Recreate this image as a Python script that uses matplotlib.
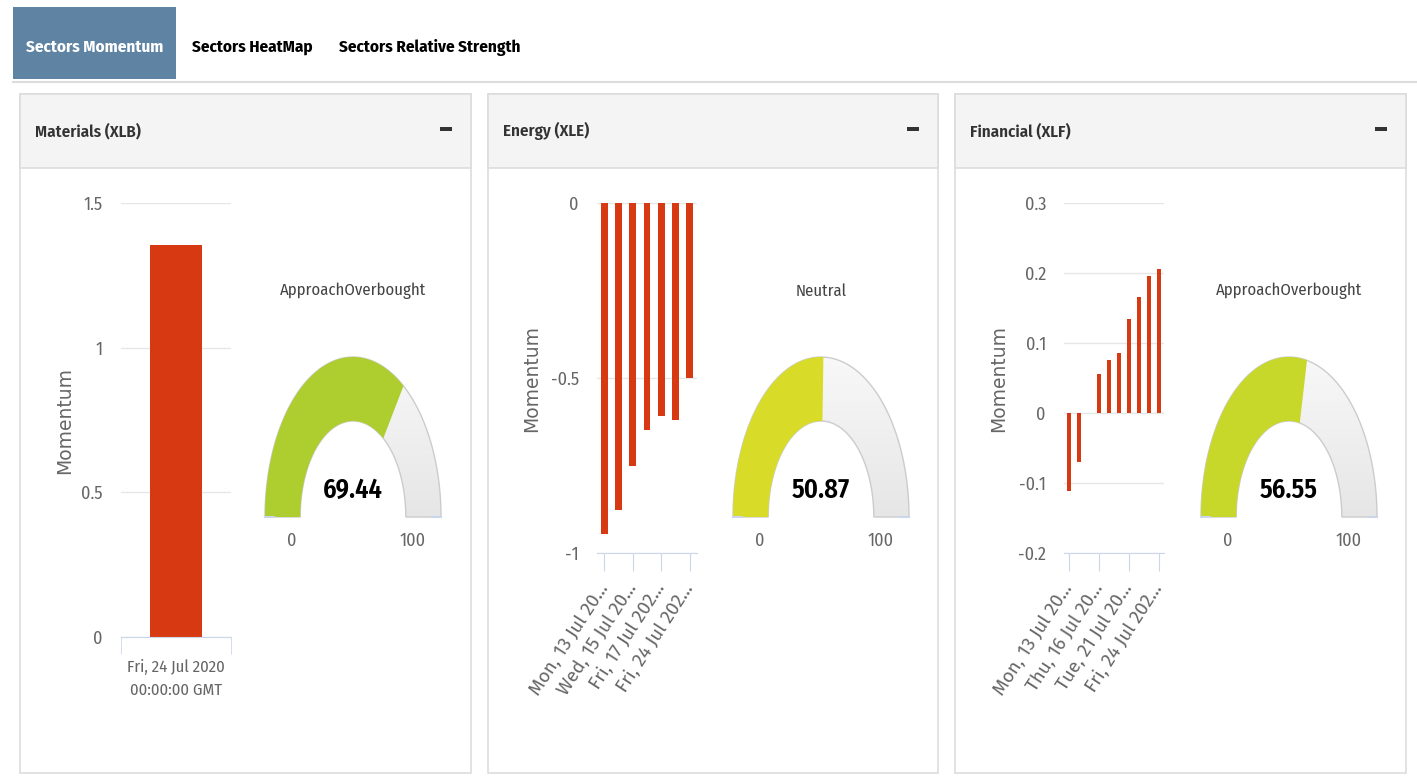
import numpy as np
import matplotlib
matplotlib.use("Agg")
import matplotlib.pyplot as plt
from matplotlib.patches import Rectangle, Polygon
from matplotlib.colors import LinearSegmentedColormap

plt.rcParams['font.family'] = ['Fira Sans Condensed', 'DejaVu Sans']
plt.rcParams['axes.unicode_minus'] = False

W, H = 1417, 776

# --- data ---
tabs = ["Sectors Momentum", "Sectors HeatMap", "Sectors Relative Strength"]
panel_titles = ["Materials (XLB)", "Energy (XLE)", "Financial (XLF)"]

xlb_dates = ["Fri, 24 Jul 2020"]
xlb_values = [1.355]
xlb_ticklabels = ["Fri, 24 Jul 2020\n00:00:00 GMT"]

xle_dates = ["Mon, 13 Jul 2020", "Tue, 14 Jul 2020", "Wed, 15 Jul 2020", "Thu, 16 Jul 2020",
             "Fri, 17 Jul 2020", "Tue, 21 Jul 2020", "Fri, 24 Jul 2020"]
xle_values = [-0.945, -0.876, -0.751, -0.648, -0.608, -0.619, -0.499]
xle_ticklabels = ["Mon, 13 Jul 20…", "Wed, 15 Jul 20…", "Fri, 17 Jul 202…", "Fri, 24 Jul 202…"]

xlf_dates = ["Mon, 13 Jul 2020", "Tue, 14 Jul 2020", "Wed, 15 Jul 2020", "Thu, 16 Jul 2020",
             "Fri, 17 Jul 2020", "Mon, 20 Jul 2020", "Tue, 21 Jul 2020", "Wed, 22 Jul 2020",
             "Thu, 23 Jul 2020", "Fri, 24 Jul 2020"]
xlf_values = [-0.111, -0.070, 0.0, 0.056, 0.076, 0.086, 0.135, 0.166, 0.196, 0.206]
xlf_ticklabels = ["Mon, 13 Jul 20…", "Thu, 16 Jul 20…", "Tue, 21 Jul 20…", "Fri, 24 Jul 202…"]

gauge_values = [69.44, 50.87, 56.55]
gauge_status = ["ApproachOverbought", "Neutral", "ApproachOverbought"]
gauge_colors = ["#aecd2f", "#d8dc28", "#c8d82b"]

BAR = "#d73a12"
GREY = "#666666"
AXIS = "#ccd6eb"

fig = plt.figure(figsize=(W / 100, H / 100), dpi=100)


def px_axes(x0, y0, x1, y1):
    return fig.add_axes([x0 / W, 1 - y1 / H, (x1 - x0) / W, (y1 - y0) / H])


# background layer in pixel coordinates
bg = fig.add_axes([0, 0, 1, 1])
bg.set_xlim(0, W)
bg.set_ylim(H, 0)
bg.axis('off')

bg.add_patch(Rectangle((13, 7), 163, 72, facecolor="#5f84a3", edgecolor="none"))
bg.plot([13, W], [82, 82], color="#dddddd", lw=1.5)
for label, x, c in zip(tabs, [95, 252, 430], ["white", "black", "black"]):
    bg.text(x, 47, label, ha='center', va='center', color=c, fontsize=12.3, fontweight='bold')

panels = [(20, 471), (488, 938), (955, 1406)]
for (x0, x1), title in zip(panels, panel_titles):
    bg.add_patch(Rectangle((x0, 94), x1 - x0, 679, facecolor="white", edgecolor="#dddddd", lw=1.2))
    bg.add_patch(Rectangle((x0, 94), x1 - x0, 74, facecolor="#f4f4f4", edgecolor="#dddddd", lw=1.2))
    bg.text(x0 + 15, 131, title, ha='left', va='center', color="#333333",
            fontsize=12.2, fontweight='semibold')
    bg.add_patch(Rectangle((x1 - 31, 127), 12, 4, facecolor="#333333", edgecolor="none"))


def style_bar_axes(ax, yticks, ylim, label_x):
    ax.set_facecolor('none')
    ax.set_ylim(*ylim)
    ax.set_yticks(yticks)
    ax.set_yticklabels(["%g" % t for t in yticks])
    ax.grid(axis='y', color="#e6e6e6", lw=1)
    ax.set_axisbelow(True)
    for s in ['left', 'top', 'right']:
        ax.spines[s].set_visible(False)
    ax.spines['bottom'].set_color(AXIS)
    ax.tick_params(axis='y', length=0, pad=13, labelsize=13, labelcolor=GREY)
    ax.set_ylabel("Momentum", family='DejaVu Sans', fontsize=13.5, color=GREY)
    ax.yaxis.set_label_coords(label_x, 0.5)


# Materials
ax1 = px_axes(121, 203, 231, 637)
ax1.bar(range(len(xlb_values)), xlb_values, width=0.47, color=BAR)
ax1.set_xlim(-0.5, 0.5)
style_bar_axes(ax1, [0, 0.5, 1, 1.5], (0, 1.5), -0.43)
ax1.set_xticks([0], xlb_ticklabels, linespacing=1.55)
ax1.set_xticks([-0.5, 0.5], minor=True)
ax1.tick_params(axis='x', which='major', length=0, pad=16, labelsize=12, labelcolor=GREY)
ax1.tick_params(axis='x', which='minor', length=12, color=AXIS)

# Energy and Financial
for box, vals, lbls, step, yt, lab_x in [
        ((597, 203, 697, 553), xle_values, xle_ticklabels, 2, [-1, -0.5, 0], -0.56),
        ((1064, 203, 1164, 553), xlf_values, xlf_ticklabels, 3,
         [-0.2, -0.1, 0, 0.1, 0.2, 0.3], -0.56)]:
    ax = px_axes(*box)
    n = len(vals)
    ax.bar(range(n), vals, width=0.48, color=BAR, zorder=3)
    ax.set_xlim(-0.5, n - 0.5)
    style_bar_axes(ax, yt, (yt[0], yt[-1]), lab_x)
    ax.set_xticks(range(0, n, step), lbls, rotation=57, ha='right', va='center',
                  rotation_mode='anchor', family=['Fira Sans', 'DejaVu Sans'])
    ax.tick_params(axis='x', length=13, color=AXIS, pad=10, labelsize=13.5, labelcolor=GREY)


def arc(a0, a1, r_in=0.6, r_out=1.0, n=120):
    t = np.radians(np.linspace(a0, a1, n))
    outer = np.c_[r_out * np.cos(t), r_out * np.sin(t)]
    inner = np.c_[r_in * np.cos(t[::-1]), r_in * np.sin(t[::-1])]
    return np.vstack([outer, inner])


grad_cmap = LinearSegmentedColormap.from_list("pane", ["#f8f8f8", "#e6e6e6"])
for cx, val, status, col in zip([353, 821, 1289], gauge_values, gauge_status, gauge_colors):
    gx = px_axes(cx - 100, 517 - 170, cx + 100, 517 + 5)
    gx.axis('off')
    pane = Polygon(arc(180, 0), closed=True, facecolor='none', edgecolor="#cccccc", lw=1)
    gx.add_patch(pane)
    grad = np.linspace(0, 1, 256).reshape(-1, 1) * np.ones((1, 64))
    im = gx.imshow(grad, extent=(-1, 1, 0, 1), cmap=grad_cmap, aspect='auto', zorder=0)
    im.set_clip_path(pane)
    gx.add_patch(Polygon(arc(180, 180 - 1.8 * val), closed=True, facecolor=col,
                         edgecolor='none', zorder=2))
    gx.plot([-1, -0.9], [0, 0], color=AXIS, lw=1.5, zorder=3)
    gx.plot([0.9, 1], [0, 0], color=AXIS, lw=1.5, zorder=3)
    gx.set_xlim(-100 / 88, 100 / 88)
    gx.set_ylim(-5 / 160, 170 / 160)

    bg.text(cx, 291, status, ha='center', va='center', fontsize=12, color="#444444")
    bg.text(cx, 490, "%.2f" % val, ha='center', va='center', fontsize=19,
            fontweight='semibold', color="black", zorder=5)
    bg.text(cx - 61, 541, "0", ha='center', va='center', fontsize=13, color=GREY)
    bg.text(cx + 60, 541, "100", ha='center', va='center', fontsize=13, color=GREY)

fig.savefig("out.png", dpi=100)
